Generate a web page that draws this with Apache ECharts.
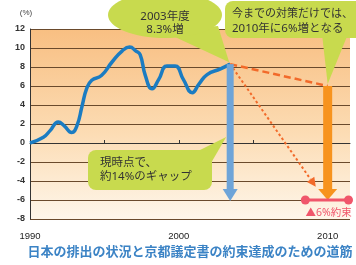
<!DOCTYPE html>
<html lang="ja">
<head>
<meta charset="UTF-8">
<title>日本の排出の状況</title>
<script src="https://cdn.jsdelivr.net/npm/echarts@6/dist/echarts.min.js"></script>
<style>
  html, body { margin: 0; padding: 0; background: #fff; }
  #chart { width: 356px; height: 265px; }
</style>
</head>
<body>
<div id="chart"></div>
<script>
// 排出量の推移（1990年比, %）: 図から読み取った値
const emissionYears = [1990, 1990.9, 1991.35, 1991.9, 1992.3, 1992.8, 1993.15, 1993.5, 1993.8, 1994.15,
  1994.8, 1995.5, 1996.2, 1996.7, 1997.1, 1997.4, 1997.75, 1998.2, 1998.65, 1999.2,
  1999.75, 2000.3, 2000.9, 2001.35, 2001.9, 2002.8, 2003.45];
const emissionValues = [0, 0.6, 1.3, 2.2, 1.8, 1.1, 1.8, 3.9, 5.7, 6.6,
  7.1, 8.5, 9.7, 10.1, 9.7, 9.3, 7.1, 5.7, 6.7, 8.1,
  8.1, 6.7, 5.3, 6.2, 7.2, 7.8, 8.3];

// 現時点 → 2010年の見通し / 約束
const nowPoint = [2003.45, 8.3];
const forecastPoint = [2010, 6];
const targetValue = -6;
const targetRange = [2008.5, 2011.4];
const dottedEnd = [2009.2, -4.6];

// 軸
const yTicks = [-8, 12, 2];
const xRange = [1990, 2011.5];

const chart = echarts.init(document.getElementById('chart'));

// 太い矢印（縦）
function bigArrow(x, yFrom, yTo, color, shaftW, headW, headH) {
  return {
    type: 'custom',
    data: [[x, yFrom, yTo]],
    z: 5,
    renderItem: function (params, api) {
      const top = api.coord([api.value(0), api.value(1)]);
      const tip = api.coord([api.value(0), api.value(2)]);
      return {
        type: 'group',
        children: [
          { type: 'rect', shape: { x: top[0] - shaftW / 2, y: top[1], width: shaftW, height: tip[1] - headH - top[1] + 1 },
            style: { fill: color } },
          { type: 'polygon', shape: { points: [[tip[0] - headW / 2, tip[1] - headH], [tip[0] + headW / 2, tip[1] - headH], [tip[0], tip[1]]] },
            style: { fill: color } }
        ]
      };
    }
  };
}

// 点線の矢印
function dottedArrow(from, to, color) {
  return {
    type: 'custom',
    data: [[from[0], from[1], to[0], to[1]]],
    z: 4,
    renderItem: function (params, api) {
      const a = api.coord([api.value(0), api.value(1)]);
      const b = api.coord([api.value(2), api.value(3)]);
      const ang = Math.atan2(b[1] - a[1], b[0] - a[0]);
      const hl = 9, hw = 4.5;
      const base = [b[0] - hl * Math.cos(ang), b[1] - hl * Math.sin(ang)];
      const nx = -Math.sin(ang), ny = Math.cos(ang);
      return {
        type: 'group',
        children: [
          { type: 'line', shape: { x1: a[0], y1: a[1], x2: base[0], y2: base[1] },
            style: { stroke: color, lineWidth: 2, lineDash: [2.5, 2.5] } },
          { type: 'polygon', shape: { points: [[base[0] + nx * hw, base[1] + ny * hw], [base[0] - nx * hw, base[1] - ny * hw], b] },
            style: { fill: color } }
        ]
      };
    }
  };
}

chart.setOption({
  backgroundColor: '#fff',
  animation: false,
  grid: {
    left: 30, right: 6, top: 29, bottom: 46,
    show: true,
    borderWidth: 0,
    backgroundColor: {
      type: 'linear', x: 0, y: 0, x2: 0, y2: 1,
      colorStops: [
        { offset: 0, color: '#f8bf82' },
        { offset: 0.55, color: '#fcdcb4' },
        { offset: 1, color: '#fef6ea' }
      ]
    }
  },
  xAxis: {
    type: 'value',
    min: xRange[0], max: xRange[1], interval: 5,
    axisLine: { show: true, lineStyle: { color: '#333', width: 1 } },
    axisTick: { show: true, inside: true, length: 3, lineStyle: { color: '#333' } },
    axisLabel: {
      color: '#222', fontSize: 9.5, margin: 12, fontFamily: 'Liberation Sans',
      showMaxLabel: false,
      formatter: v => (v % 10 === 0 ? String(v) : '')
    },
    splitLine: { show: false }
  },
  yAxis: {
    type: 'value',
    min: yTicks[0], max: yTicks[1], interval: yTicks[2],
    name: '(%)',
    nameGap: 12,
    nameTextStyle: { color: '#444', fontSize: 8, fontFamily: 'Liberation Sans', padding: [0, 8, 0, 0] },
    axisLine: { show: true, lineStyle: { color: '#333', width: 1 } },
    axisTick: { show: false },
    axisLabel: { color: '#333', fontSize: 9, fontWeight: 'bold', margin: 5, fontFamily: 'Liberation Sans' },
    splitLine: { show: true, lineStyle: { color: '#6a4a2c', width: 1 } }
  },
  series: [
    {
      type: 'line',
      data: emissionYears.map((y, i) => [y, emissionValues[i]]),
      smooth: 0.5,
      symbol: 'none',
      z: 3,
      lineStyle: { color: '#1b7cc2', width: 3.5 }
    },
    {
      type: 'line',
      data: [nowPoint, forecastPoint],
      symbol: 'none',
      z: 4,
      lineStyle: { color: '#f26a2a', width: 2.5, type: [7, 4] }
    },
    dottedArrow(nowPoint, dottedEnd, '#f26a2a'),
    bigArrow(nowPoint[0], nowPoint[1], targetValue - 0.1, '#6ea4d8', 7, 15, 12),
    bigArrow(forecastPoint[0], forecastPoint[1], targetValue, '#f7931e', 9, 19, 11),
    {
      type: 'line',
      data: [[targetRange[0], targetValue], [targetRange[1], targetValue]],
      symbol: 'circle',
      symbolSize: 9,
      z: 6,
      itemStyle: { color: '#f0566b' },
      lineStyle: { color: '#f0566b', width: 3 }
    }
  ]
});

// 吹き出しと注記
const px = p => chart.convertToPixel({ gridIndex: 0 }, p);
const nowPx = px(nowPoint);
const fcPx = px(forecastPoint);
const tgPx = px([forecastPoint[0], targetValue]);
const bubble = '#c8da4e';
const txt = (x, y, s, extra) => ({
  type: 'text', z: 101,
  style: Object.assign({
    x: x, y: y, text: s, fill: '#333',
    fontSize: 11.5, fontFamily: '"Noto Sans", "Noto Sans CJK JP", sans-serif', verticalAlign: 'middle'
  }, extra || {})
});

chart.setOption({
  graphic: [
    // 2003年度 8.3%増
    { type: 'polygon', z: 100, shape: { points: [[160, 30], [218, 26], [nowPx[0] - 1, nowPx[1] - 2]] }, style: { fill: bubble } },
    { type: 'ellipse', z: 100, shape: { cx: 165, cy: 15, rx: 57, ry: 23 }, style: { fill: bubble } },
    txt(165, 17, '2003年度', { align: 'center' }),
    txt(165, 30, '8.3%増', { align: 'center' }),
    // 2010年に6%増
    { type: 'polygon', z: 100, shape: { points: [[322, 34], [348, 34], [fcPx[0], fcPx[1] - 2]] }, style: { fill: bubble } },
    { type: 'rect', z: 100, shape: { x: 225, y: 1, width: 145, height: 37, r: 8 }, style: { fill: bubble } },
    txt(232, 14, '今までの対策だけでは、', { fontSize: 11 }),
    txt(232, 29, '2010年に6%増となる', { fontSize: 11.5 }),
    // 約14%のギャップ
    { type: 'polygon', z: 100, shape: { points: [[196, 152], [211, 163], [nowPx[0] - 4, 137]] }, style: { fill: bubble } },
    { type: 'rect', z: 100, shape: { x: 88, y: 150, width: 124, height: 40, r: 8 }, style: { fill: bubble } },
    txt(100, 163, '現時点で、'),
    txt(100, 177, '約14%のギャップ'),
    // ▲6%約束
    txt(tgPx[0] + 1, tgPx[1] + 13, '▲6%約束', { align: 'center', fill: '#f0566b', fontSize: 10.5 }),
    // 見出し
    txt(190, 252, '日本の排出の状況と京都議定書の約束達成のための道筋',
      { align: 'center', fill: '#3b83c5', fontSize: 13, fontWeight: 'bold' })
  ]
});
</script>
</body>
</html>
